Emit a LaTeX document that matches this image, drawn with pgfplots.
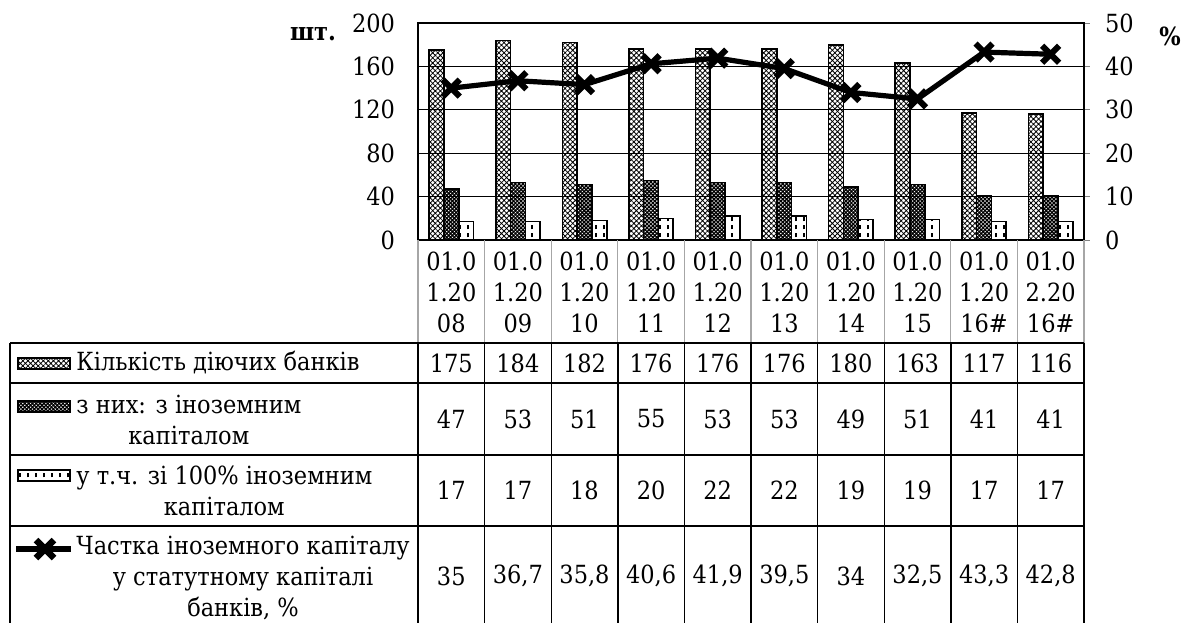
\documentclass[border=0pt]{standalone}
\usepackage{fontspec}
\setmainfont{DejaVu Serif Condensed}
\usepackage{pgfplots}
\usepackage{pgfplotstable}
\pgfplotsset{compat=1.18}
\usetikzlibrary{patterns,patterns.meta}

\pgfdeclarepatternformonly{vdash}{\pgfpoint{-1pt}{-1pt}}{\pgfpoint{5pt}{5pt}}{\pgfpoint{4pt}{4pt}}{%
  \pgfsetlinewidth{0.8pt}\pgfpathmoveto{\pgfpoint{2pt}{0.8pt}}\pgfpathlineto{\pgfpoint{2pt}{3.2pt}}\pgfusepath{stroke}}

\pgfplotstableread{
x a b c p
0 175 47 17 35
1 184 53 17 36.7
2 182 51 18 35.8
3 176 55 20 40.6
4 176 53 22 41.9
5 176 53 22 39.5
6 180 49 19 34
7 163 51 19 32.5
8 117 41 17 43.3
9 116 41 17 42.8
}\datatable

\newcommand{\fnt}{\fontsize{12.5}{15.5}\selectfont}
\tikzset{
  patA/.style={pattern={Hatch[angle=45,distance=1.8pt,line width=0.4pt]}},
  patB/.style={pattern={Hatch[angle=45,distance=1.35pt,line width=0.65pt]}},
  patC/.style={fill=white,postaction={pattern=vdash}},
}

\begin{document}
\begin{tikzpicture}[font=\fnt]
\begin{axis}[
  name=main, at={(209pt,-120pt)}, anchor=south west,
  scale only axis, width=333pt, height=108.5pt,
  xmin=-0.5, xmax=9.5, ymin=0, ymax=200,
  ytick={0,40,...,200}, xtick=\empty,
  ymajorgrids, grid style={black, line width=0.6pt},
  axis line style={black, line width=0.6pt},
  major tick length=0pt,
  ybar=0pt, bar width=7.4pt,
  tick label style={font=\fnt},
  yticklabel style={xshift=-8pt},
  /pgf/number format/assume math mode=true,
]
\addplot[draw=black, line width=0.8pt, patA] table[x=x,y=a]{\datatable};
\addplot[draw=black, line width=0.8pt, patB] table[x=x,y=b]{\datatable};
\addplot[draw=black, line width=0.8pt, patC] table[x=x,y=c]{\datatable};
\end{axis}
\begin{axis}[
  at={(209pt,-120pt)}, anchor=south west,
  scale only axis, width=333pt, height=108.5pt,
  xmin=-0.5, xmax=9.5, ymin=0, ymax=50,
  ytick={0,10,...,50},
  axis y line*=right, axis x line=none,
  axis line style={black, line width=0.6pt},
  major tick length=3pt, tick align=outside, tick style={gray, line width=0.5pt},
  tick label style={font=\fnt},
  yticklabel style={xshift=4pt},
  /pgf/number format/assume math mode=true,
]
\addplot[black, line width=2.6pt, mark=x, mark size=6pt, mark options={line width=3pt}] table[x=x,y=p]{\datatable};
\end{axis}

\begin{scope}[x=0.5pt,y=-0.5pt]
\path[use as bounding box] (0,0) rectangle (1184,623);
% units labels
\node[font=\fnt\bfseries] at (313,34) {шт.};
\node[font=\fnt\bfseries] at (1170,36) {\%};
% table lines
\foreach \k in {0,...,10}{
  \draw[gray!70, line width=0.6pt] ({418+66.6*\k},240) -- ({418+66.6*\k},343);
  \draw[black, line width=0.7pt] ({418+66.6*\k},343) -- ({418+66.6*\k},623);
}
\draw[black, line width=0.7pt] (10,343) -- (10,623);
\foreach \yy in {343,383,455,526}{
  \draw[black, line width=0.7pt] (10,\yy) -- (1084,\yy);
}
% header labels
\foreach \k/\lab in {0/{01.0\\1.20\\08},1/{01.0\\1.20\\09},2/{01.0\\1.20\\10},3/{01.0\\1.20\\11},4/{01.0\\1.20\\12},5/{01.0\\1.20\\13},6/{01.0\\1.20\\14},7/{01.0\\1.20\\15},8/{01.0\\1.20\\16\#},9/{01.0\\2.20\\16\#}}{
  \node[align=center, inner sep=0pt] at ({418+66.6*(\k+0.5)},292) {\lab};
}
% values
\foreach \k/\va/\vb/\vc/\vp in {0/175/47/17/35,1/184/53/17/{36,7},2/182/51/18/{35,8},3/176/55/20/{40,6},4/176/53/22/{41,9},5/176/53/22/{39,5},6/180/49/19/34,7/163/51/19/{32,5},8/117/41/17/{43,3},9/116/41/17/{42,8}}{
  \node[inner sep=0pt] at ({418+66.6*(\k+0.5)},363) {\va};
  \node[inner sep=0pt] at ({418+66.6*(\k+0.5)},419) {\vb};
  \node[inner sep=0pt] at ({418+66.6*(\k+0.5)},490) {\vc};
  \node[inner sep=0pt] at ({418+66.6*(\k+0.5)},576) {\vp};
}
% row labels
\node[anchor=west, align=center, inner sep=0pt] at (76,363) {Кількість діючих банків};
\node[anchor=west, align=center, inner sep=0pt] at (76,420) {з них: з іноземним\\капіталом};
\node[anchor=west, align=center, inner sep=0pt] at (76,491) {у т.ч. зі 100\% іноземним\\капіталом};
\node[anchor=west, align=center, inner sep=0pt] at (76,578) {Частка іноземного капіталу\\у статутному капіталі\\банків, \%};
% legend keys
\draw[black, line width=0.8pt, patA] (18,358) rectangle (70,369);
\draw[black, line width=0.8pt, patB] (18,401) rectangle (70,412);
\draw[black, line width=0.8pt, patC] (18,470) rectangle (70,481);
\draw[black, line width=2.8pt] (16,549) -- (71,549);
\draw[black, line width=3.2pt] (36,540) -- (54,558);
\draw[black, line width=3.2pt] (36,558) -- (54,540);
\end{scope}
\end{tikzpicture}
\end{document}
